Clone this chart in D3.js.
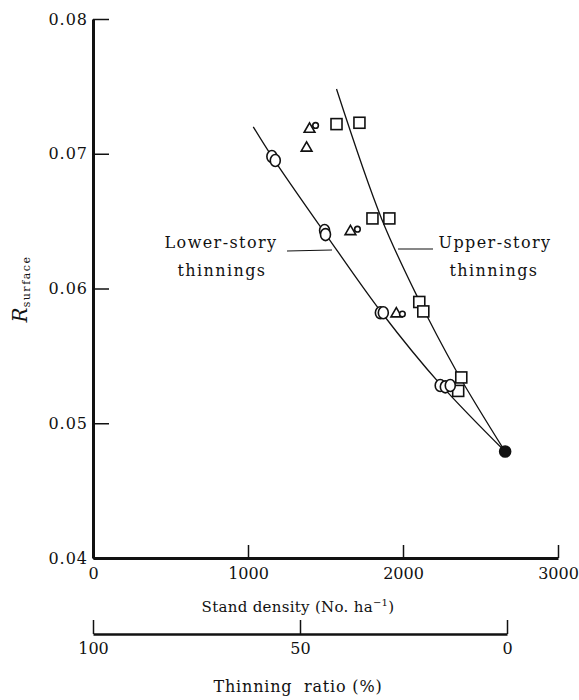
<!DOCTYPE html>
<html>
<head>
<meta charset="utf-8">
<script src="https://cdn.jsdelivr.net/npm/d3@7"></script>
<style>
  html, body { margin: 0; padding: 0; background: #fff; }
</style>
</head>
<body>
<svg id="chart" width="579" height="700" style="font-family: 'DejaVu Serif', 'Liberation Serif', serif"></svg>
<script>
// Stand density (No./ha) and surface resistance values
const lowerCircles = [
  [1154, 0.0698], [1176, 0.0695],
  [1494, 0.0643], [1500, 0.0640],
  [1854, 0.0582], [1873, 0.0582],
  [2240, 0.0528], [2273, 0.0527], [2305, 0.0528]
];
const triangles = [
  [1397, 0.0719], [1378, 0.0705], [1661, 0.0643], [1957, 0.0582]
];
const smallCircles = [
  [1436, 0.0721], [1706, 0.0644], [1996, 0.0581]
];
const squares = [
  [1571, 0.0722], [1719, 0.0723],
  [1803, 0.0652], [1912, 0.0652],
  [2105, 0.0590], [2131, 0.0583],
  [2376, 0.0534], [2356, 0.0524]
];
const control = [[2659, 0.0479]];

// Fitted curves for the two thinning methods
const lowerFit = [
  [1034, 0.0720], [1160, 0.0697], [1497, 0.0641],
  [1863, 0.0582], [2240, 0.0529], [2659, 0.0479]
];
const upperFit = [
  [1571, 0.0748], [1861, 0.0652], [2092, 0.0594],
  [2343, 0.0539], [2659, 0.0479]
];

const densityTicks = [0, 1000, 2000, 3000];
const rTicks = [0.04, 0.05, 0.06, 0.07, 0.08];
const ratioTicks = [100, 50, 0];
const fullDensity = 2671; // density corresponding to 0 % thinning

const serif = "'DejaVu Serif', 'Liberation Serif', serif";

const svg = d3.select("#chart");
const x = d3.scaleLinear().domain([0, 3000]).range([93, 558]);
const y = d3.scaleLinear().domain([0.04, 0.08]).range([558, 19]);
const xr = d3.scaleLinear().domain([100, 0]).range([x(0), x(fullDensity)]);

function styleAxis(g, size, spacing) {
  g.attr("font-family", serif);
  g.selectAll("text")
    .attr("font-family", serif)
    .attr("font-size", size)
    .attr("letter-spacing", spacing)
    .attr("fill", "#111");
  g.selectAll("line").attr("stroke", "#111");
}

// Y axis
const gy = svg.append("g").attr("transform", `translate(${x(0)},0)`)
  .call(d3.axisLeft(y).tickValues(rTicks).tickFormat(d3.format(".2f"))
    .tickSize(-16).tickSizeOuter(0).tickPadding(5));
gy.select(".domain").attr("stroke", "#111").attr("stroke-width", 3);
gy.selectAll(".tick line").attr("stroke-width", 1.5);
styleAxis(gy, 16, "1px");

// X axis (stand density)
const gx = svg.append("g").attr("transform", `translate(0,${y(0.04)})`)
  .call(d3.axisBottom(x).tickValues(densityTicks).tickFormat(d3.format("d"))
    .tickSize(-13).tickSizeOuter(0).tickPadding(10));
gx.select(".domain").attr("stroke", "#111").attr("stroke-width", 3);
gx.selectAll(".tick line").attr("stroke-width", 1.5);
styleAxis(gx, 16, "0px");

// Thinning ratio axis
const gr = svg.append("g").attr("transform", "translate(0,634)")
  .call(d3.axisBottom(xr).tickValues(ratioTicks).tickFormat(d3.format("d"))
    .tickSize(-14).tickSizeOuter(0).tickPadding(9));
gr.select(".domain").attr("stroke", "#111").attr("stroke-width", 2.5);
gr.selectAll(".tick line").attr("stroke-width", 1.5);
styleAxis(gr, 16, "0px");

// Axis titles
svg.append("text").attr("x", 298).attr("y", 612)
  .attr("font-family", serif).attr("fill", "#111")
  .attr("text-anchor", "middle").attr("font-size", 15).attr("letter-spacing", "0.3px")
  .call(t => {
    t.append("tspan").text("Stand density (No. ha");
    t.append("tspan").attr("font-size", 10).attr("dy", -6).text("−1");
    t.append("tspan").attr("dy", 6).text(")");
  });
svg.append("text").attr("x", 298).attr("y", 692)
  .attr("font-family", serif).attr("fill", "#111")
  .attr("text-anchor", "middle").attr("font-size", 16).attr("letter-spacing", "0.8px")
  .attr("xml:space", "preserve")
  .text("Thinning  ratio (%)");

svg.append("text").attr("transform", "translate(27,289) rotate(-90)")
  .attr("font-family", serif).attr("fill", "#111")
  .attr("text-anchor", "middle")
  .call(t => {
    t.append("tspan").attr("font-size", 20).attr("font-style", "italic").text("R");
    t.append("tspan").attr("font-size", 11).attr("dy", 3).attr("letter-spacing", "1.5px").text("surface");
  });

// Fitted curves
const line = d3.line().x(d => x(d[0])).y(d => y(d[1])).curve(d3.curveCatmullRom);
[lowerFit, upperFit].forEach(pts => {
  svg.append("path").datum(pts).attr("d", line)
    .attr("fill", "none").attr("stroke", "#111").attr("stroke-width", 1.3);
});

// Leader lines and curve labels
const labels = svg.append("g").attr("font-family", serif).attr("fill", "#111")
  .attr("font-size", 16).attr("letter-spacing", "1.4px");
svg.append("line").attr("x1", 287).attr("y1", 251).attr("x2", 332).attr("y2", 250)
  .attr("stroke", "#111").attr("stroke-width", 1.2);
svg.append("line").attr("x1", 398).attr("y1", 249).attr("x2", 433).attr("y2", 249)
  .attr("stroke", "#111").attr("stroke-width", 1.2);
labels.append("text").attr("x", 221).attr("y", 248).attr("text-anchor", "middle").text("Lower-story");
labels.append("text").attr("x", 222).attr("y", 276).attr("text-anchor", "middle").text("thinnings");
labels.append("text").attr("x", 495).attr("y", 248).attr("text-anchor", "middle").text("Upper-story");
labels.append("text").attr("x", 494).attr("y", 276).attr("text-anchor", "middle").text("thinnings");

// Markers
const mk = svg.append("g").attr("stroke", "#111").attr("stroke-width", 1.6);
mk.selectAll(".sq").data(squares).join("rect")
  .attr("x", d => x(d[0]) - 5.5).attr("y", d => y(d[1]) - 5.5)
  .attr("width", 11).attr("height", 11).attr("fill", "#fff");
const tri = d3.symbol().type(d3.symbolTriangle).size(50);
mk.selectAll(".tr").data(triangles).join("path")
  .attr("transform", d => `translate(${x(d[0])},${y(d[1]) + 1})`)
  .attr("d", tri).attr("fill", "#fff");
mk.selectAll(".sc").data(smallCircles).join("circle")
  .attr("cx", d => x(d[0])).attr("cy", d => y(d[1]))
  .attr("r", 2.8).attr("fill", "#fff");
mk.selectAll(".ci").data(lowerCircles).join("ellipse")
  .attr("cx", d => x(d[0])).attr("cy", d => y(d[1]))
  .attr("rx", 5).attr("ry", 6).attr("fill", "#fff");
mk.selectAll(".ctl").data(control).join("circle")
  .attr("cx", d => x(d[0])).attr("cy", d => y(d[1]))
  .attr("r", 5.5).attr("fill", "#111");
</script>
</body>
</html>
